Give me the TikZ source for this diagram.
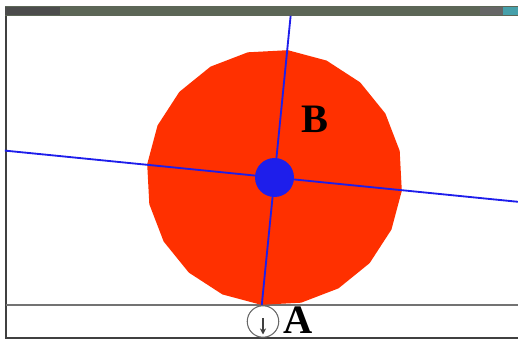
\documentclass[tikz,border=0pt]{standalone}
\usepackage{fontspec}
\setmainfont{Liberation Serif}
\usepackage{xcolor}
\usetikzlibrary{arrows.meta, calc}

\definecolor{wheelred}{RGB}{255,48,0}
\definecolor{axisblue}{RGB}{30,30,235}
\definecolor{barolive}{RGB}{92,102,86}
\definecolor{barteal}{RGB}{70,160,170}

\begin{document}
\begin{tikzpicture}[
    x=0.02cm, y=-0.02cm,
    >=Stealth,
    frame/.style={draw=black!75, line width=1.2pt},
    ground/.style={draw=black!55, line width=0.9pt},
    axisline/.style={draw=axisblue, line width=1.05pt},
    lbl/.style={font=\fontsize{23}{24}\selectfont\bfseries, inner sep=0pt},
]
\useasboundingbox (0,0) rectangle (518,341);

% Key points
\coordinate (hub) at (274.5,177.5);
\coordinate (contact) at ($(hub)+(95.7:128)$);

% Window
\fill[barolive] (5,6) rectangle (518,16);
\fill[black!70] (5,7) rectangle (60,15);
\fill[black!60] (480,7) rectangle (503,15);
\fill[barteal] (503,7) rectangle (518,15);
\draw[frame] (6,16) -- (6,338) -- (518,338);
\draw[ground] (6,305) -- (518,305);

% Wheel (20-gon)
\fill[wheelred]
  ($(hub)+(-12:128)$)
  \foreach \a in {30,48,...,354} { -- ($(hub)+(-\a:128)$) } -- cycle;

% Rotated axes through the hub
\coordinate (axtop) at ($(hub)+(-84.3:162.5)$);
\coordinate (axleft) at ($(hub)+(-174.3:271)$);
\coordinate (axright) at ($(hub)+(5.7:245)$);
\draw[axisline] (contact) -- (axtop);
\draw[axisline] (axleft) -- (axright);

% Hub
\fill[axisblue] (hub) circle (19.5);

% Labels
\node[lbl, anchor=base] (labB) at (314.5,133) {B};
\node[lbl, anchor=base] (labA) at (298.5,334) {A};

% Contact marker
\node[draw=black!60, circle, minimum size=0.63cm, inner sep=0pt,
      line width=0.6pt] (mark) at (263,321.5) {};
\draw[->, black!75, line width=0.7pt, >={Stealth[length=3.5pt,width=3.5pt]}]
  ($(mark.center)+(0,-3)$) -- ($(mark.center)+(0,13)$);

\end{tikzpicture}
\end{document}
